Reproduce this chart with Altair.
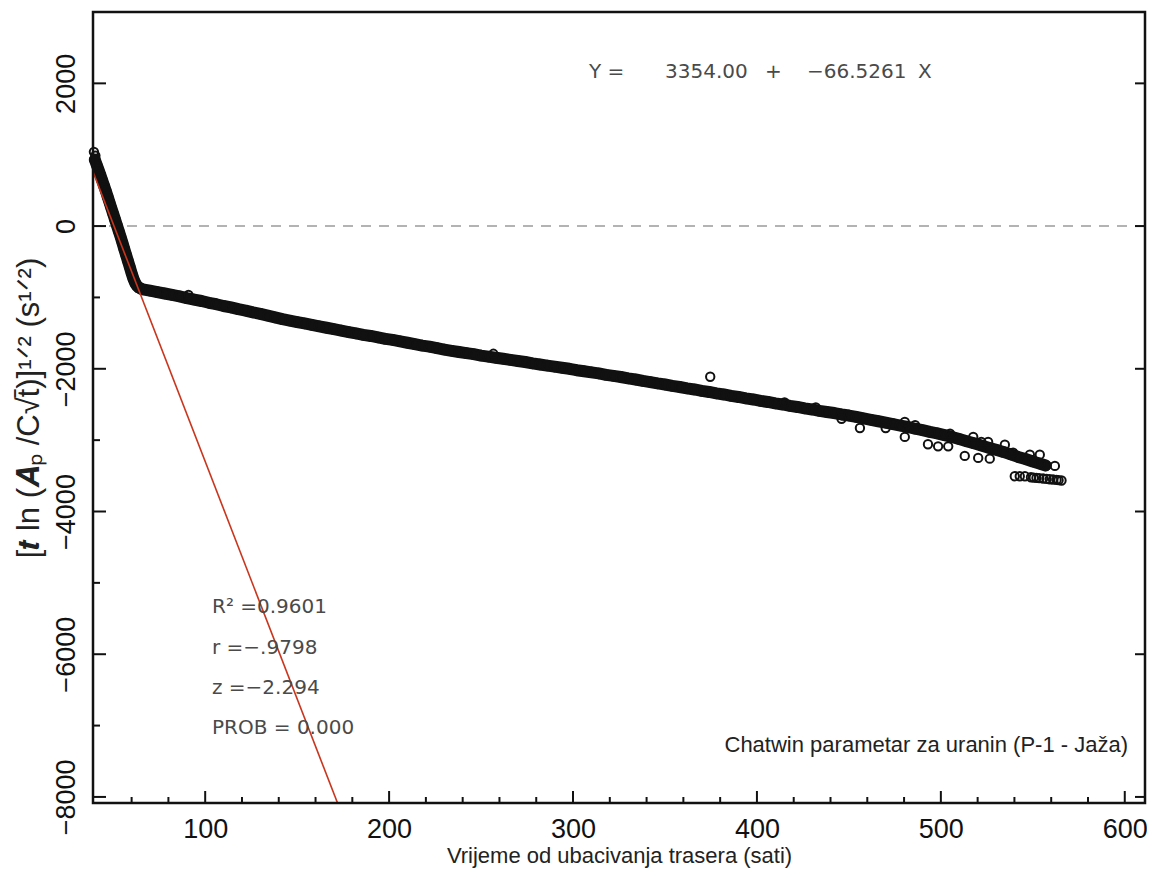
import altair as alt
import pandas as pd

# ---- axis tick positions ----
x_major = [100, 200, 300, 400, 500, 600]
x_minor = [60, 80, 120, 140, 160, 180, 220, 240, 260, 280, 320, 340, 360, 380,
           420, 440, 460, 480, 520, 540, 560, 580]
y_major = [-8000, -6000, -4000, -2000, 0, 2000]
y_minor = [-7000, -5000, -3000, -1000, 1000]

band_x = [40, 41, 42, 43, 44, 45, 46, 47, 48, 49, 50, 51, 52, 53, 54, 55, 56, 57, 58, 59,
          60, 61, 62, 63, 64, 65, 66,
          70, 74, 78, 82, 86, 90, 94, 98, 102, 106, 110, 114, 118, 122, 126, 130, 134, 138,
          142, 146, 150, 154, 158, 162, 166, 170, 174, 178, 182, 186, 190, 194, 198, 202,
          206, 210, 214, 218, 222, 226, 230, 234, 238, 242, 246, 250, 254, 258, 262, 266,
          270, 274, 278, 282, 286, 290, 294, 298, 302, 306, 310, 314, 318, 322, 326, 330,
          334, 338, 342, 346, 350, 354, 358, 362, 366, 370, 374, 378, 382, 386, 390, 394,
          398, 402, 406, 410, 414, 418, 422, 426, 430, 434, 438, 442, 446, 450, 454, 458,
          462, 466, 470, 474, 478, 482, 486, 490, 494, 498, 502, 506, 510, 514, 518, 522,
          526, 530, 534, 538, 542, 546, 550, 554, 557]
band_y = [930, 860, 790, 715, 640, 565, 490, 410, 330, 250, 170, 90, 10, -70, -150, -235,
          -320, -405, -490, -575, -660, -740, -800, -840, -862, -876, -886,
          -905, -925, -945, -965, -985, -1010, -1030, -1050, -1075, -1095, -1120, -1140,
          -1165, -1185, -1210, -1230, -1255, -1280, -1305, -1325, -1345, -1365, -1385,
          -1405, -1425, -1445, -1465, -1485, -1505, -1525, -1540, -1560, -1580, -1595,
          -1615, -1635, -1655, -1675, -1690, -1710, -1730, -1748, -1765, -1780, -1795,
          -1815, -1830, -1845, -1860, -1875, -1890, -1905, -1925, -1940, -1955, -1970,
          -1985, -2000, -2020, -2035, -2050, -2065, -2085, -2100, -2115, -2135, -2150,
          -2170, -2186, -2205, -2220, -2240, -2255, -2275, -2290, -2310, -2325, -2345,
          -2360, -2380, -2395, -2415, -2430, -2450, -2465, -2485, -2500, -2520, -2535,
          -2555, -2570, -2590, -2605, -2620, -2640, -2655, -2675, -2695, -2715, -2735,
          -2755, -2775, -2795, -2815, -2840, -2860, -2885, -2905, -2930, -2955, -2985,
          -3015, -3045, -3075, -3105, -3135, -3165, -3200, -3235, -3265, -3300, -3330,
          -3355]

# ---- scattered observations off the band ----
out_x = [39.5, 40.3, 90.9, 256.7, 374.6, 415, 432, 446, 456, 470, 480.4, 480.4, 486,
         493, 493, 498.5, 504, 505, 513, 517.6, 520.3, 522, 525.7, 526.6, 534.8, 539.3,
         548.4, 553.8, 562, 540.2, 542.9, 545.7, 549, 550.5, 552.0, 553.5, 555.6, 557.5,
         559.2, 561, 562.9, 564, 565.6]
out_y = [1040, 985, -965, -1790, -2112, -2470, -2540, -2700, -2830, -2830, -2745, -2955,
         -2790, -2877, -3058, -3087, -3087, -2909, -3221, -2955, -3249, -3025, -3025,
         -3259, -3063, -3175, -3203, -3203, -3361, -3506, -3506, -3506, -3520, -3525,
         -3529, -3533, -3538, -3543, -3548, -3552, -3557, -3561, -3566]

# ---- regression line  Y = 3354.00 - 66.5261 X ----
fit_x = [39.0, 171.8]
fit_y = [759.5, -8075.2]
zero_y = [0]

W, H = 1052, 791
XDOM = [39, 611]
YDOM = [-8085, 3000]

LAB = "Liberation Sans, Arial"
ANN = "DejaVu Sans, Liberation Sans"
MINUS_EXPR = "datum.value < 0 ? '\u2212' + format(abs(datum.value), 'd') : format(datum.value, 'd')"

xs = alt.Scale(domain=XDOM, nice=False, zero=False)
ys = alt.Scale(domain=YDOM, nice=False, zero=False)

band_df = pd.DataFrame({"x": band_x, "y": band_y})
out_df = pd.DataFrame({"x": out_x, "y": out_y})
fit_df = pd.DataFrame({"x": fit_x, "y": fit_y})

xaxis = alt.Axis(values=x_major, title="Vrijeme od ubacivanja trasera (sati)",
                 labelExpr=MINUS_EXPR,
                 ticks=False, domain=False, grid=False, labelFont=LAB,
                 labelFontSize=27, labelColor="#111", labelPadding=13,
                 titleFont=LAB, titleFontSize=22, titleFontWeight="normal",
                 titleColor="#222", titlePadding=3)
yaxis = alt.Axis(values=y_major, title="[𝒕 ln (𝑨ₚ /C√t̄)]¹ᐟ²  (s¹ᐟ²)",
                 labelExpr=MINUS_EXPR,
                 ticks=False, domain=False, grid=False, labelFont=LAB,
                 labelFontSize=27, labelColor="#111", labelAngle=270,
                 labelAlign="center", labelBaseline="bottom", labelPadding=13,
                 titleFont=LAB, titleFontSize=31, titleFontWeight="normal",
                 titleColor="#222", titlePadding=7)

zero = alt.Chart(pd.DataFrame({"y": zero_y})).mark_rule(
    color="#9a9a9a", strokeWidth=1.5, strokeDash=[10, 8]).encode(
    y=alt.Y("y:Q", scale=ys, axis=yaxis))

band_line = alt.Chart(band_df).mark_line(color="#111", strokeWidth=12,
                                          strokeCap="round", strokeJoin="round").encode(
    x=alt.X("x:Q", scale=xs, axis=xaxis), y=alt.Y("y:Q", scale=ys, axis=yaxis))
band_pts = alt.Chart(band_df).mark_point(shape="circle", filled=False, color="#111",
                                         size=90, strokeWidth=2, opacity=1).encode(
    x=alt.X("x:Q", scale=xs), y=alt.Y("y:Q", scale=ys))
out_pts = alt.Chart(out_df).mark_point(shape="circle", filled=False, color="#111",
                                       size=70, strokeWidth=2, opacity=1).encode(
    x=alt.X("x:Q", scale=xs), y=alt.Y("y:Q", scale=ys))
fit = alt.Chart(fit_df).mark_line(color="#c8361e", strokeWidth=1.6, clip=True).encode(
    x=alt.X("x:Q", scale=xs), y=alt.Y("y:Q", scale=ys))

frame = alt.Chart(pd.DataFrame({"k": [0]})).mark_rect(
    filled=False, stroke="#111", strokeWidth=2.5).encode(
    x=alt.value(0), x2=alt.value(W), y=alt.value(0), y2=alt.value(H))

# inward ticks
def tick_layer(vals, chan, length, side):
    df = pd.DataFrame({"v": vals})
    m = alt.Chart(df).mark_rule(color="#111", strokeWidth=2)
    if chan == "x":
        return m.encode(x=alt.X("v:Q", scale=xs), y=alt.value(H), y2=alt.value(H - length))
    if side == "left":
        return m.encode(y=alt.Y("v:Q", scale=ys), x=alt.value(0), x2=alt.value(length))
    return m.encode(y=alt.Y("v:Q", scale=ys), x=alt.value(W - length), x2=alt.value(W))

ticks = [tick_layer(x_major, "x", 12, None), tick_layer(x_minor, "x", 6, None),
         tick_layer(y_major, "y", 13, "left"), tick_layer(y_minor, "y", 7, "left"),
         tick_layer(y_major, "y", 10, "right")]

def txt(s, x, y, size=20, color="#4a4a4a", align="left", font=ANN):
    return alt.Chart(pd.DataFrame({"t": [s]})).mark_text(
        align=align, baseline="middle", fontSize=size, color=color, font=font).encode(
        text="t:N", x=alt.value(x), y=alt.value(y))

texts = [
    txt("Y =", 496, 60), txt("3354.00", 572, 60), txt("+", 672, 60),
    txt("−66.5261", 714, 60), txt("X", 825, 60),
    txt("R² =0.9601", 119, 595), txt("r =−.9798", 119, 636),
    txt("z =−2.294", 119, 676), txt("PROB =  0.000", 119, 716),
    txt("Chatwin parametar za uranin (P-1 - Jaža)", 1035, 733, size=22,
        color="#222", align="right", font="Liberation Sans, Arial"),
]

chart = alt.layer(zero, band_line, band_pts, out_pts, fit, frame, *ticks, *texts).properties(
    width=W, height=H,
    autosize=alt.AutoSizeParams(type="none"),
    padding={"left": 85, "top": 4, "right": 2, "bottom": 66},
).configure_view(strokeWidth=0).configure(background="white")

chart.save("out.html", embed_options={"renderer": "svg", "actions": False})
